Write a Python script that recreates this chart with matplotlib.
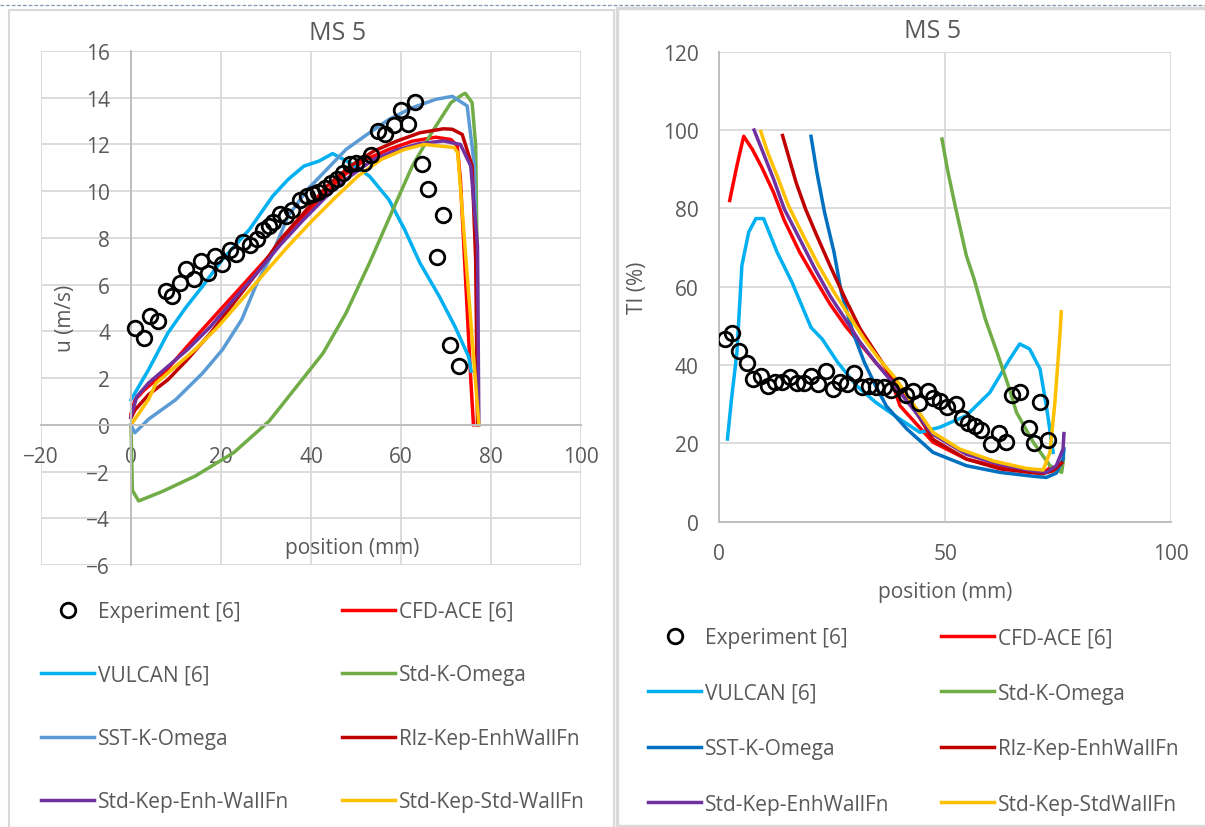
import matplotlib.pyplot as plt
from matplotlib.patches import Rectangle
from matplotlib.lines import Line2D

plt.rcParams['font.family'] = ['Open Sans', 'DejaVu Sans']

W, H = 1205, 828
TXT = '#595959'
GRID = '#D9D9D9'
AXIS = '#BFBFBF'

# ---------------- left chart: velocity u (m/s) ----------------
u_exp_x = [0.9, 2.8, 4.3, 6.0, 7.8, 9.1, 10.8, 12.3, 14.0, 15.5, 17.1, 18.7, 20.3, 22.0,
           23.4, 24.9, 26.5, 28.0, 29.3, 30.6, 31.5, 33.0, 34.5, 35.8, 37.5, 39.2, 40.5,
           41.6, 43.1, 44.4, 45.7, 47.0, 48.7, 50.0, 51.7, 53.4, 54.9, 56.5, 58.4, 59.9,
           61.5, 63.2, 64.7, 66.1, 67.9, 69.4, 70.9, 72.8]
u_exp_y = [4.14, 3.7, 4.67, 4.43, 5.74, 5.5, 6.07, 6.67, 6.24, 7.0, 6.5, 7.21, 6.89, 7.47,
           7.33, 7.81, 7.71, 7.96, 8.33, 8.5, 8.7, 9.04, 8.93, 9.21, 9.64, 9.79, 9.86,
           9.96, 10.14, 10.36, 10.53, 10.79, 11.17, 11.21, 11.21, 11.57, 12.57, 12.43, 12.83,
           13.46, 12.86, 13.81, 11.17, 10.1, 7.19, 8.96, 3.43, 2.53]

u_cfd_x = [0, 0.9, 3.0, 7.3, 12.5, 18.5, 24.6, 30.6, 36.6, 41.8, 47.0, 52.2, 57.3, 62.5,
           67.7, 71.1, 72.5, 73.2, 75.5, 76.1]
u_cfd_y = [0.45, 1.07, 1.5, 2.21, 3.36, 4.64, 5.93, 7.21, 8.5, 9.64, 10.64, 11.36, 11.79,
           12.14, 12.31, 12.21, 11.94, 10.5, 1.95, 0.0]

u_vul_x = [0, 3.9, 8.2, 12.1, 15.9, 20.3, 26.3, 31.5, 34.9, 38.4, 41.8, 44.8, 48.7, 53.0,
           57.3, 60.8, 64.2, 68.5, 72.0, 75.0, 75.6]
u_vul_y = [1.07, 2.36, 3.93, 5.0, 5.93, 7.07, 8.36, 9.79, 10.5, 11.07, 11.29, 11.61, 11.21,
           10.64, 9.64, 8.36, 6.93, 5.5, 4.2, 2.93, 2.3]

u_skw_x = [0, 0.3, 1.7, 7.0, 14.3, 22.9, 30.7, 35.0, 42.7, 47.8, 53.0, 58.2, 62.5, 66.8,
           71.1, 73.7, 74.3, 75.8, 76.6, 77.0, 77.2]
u_skw_y = [0, -2.8, -3.26, -2.85, -2.19, -1.18, 0.16, 1.2, 3.07, 4.79, 6.93, 9.21, 11.07,
           12.5, 13.79, 14.14, 14.19, 13.79, 11.94, 6.0, 0.0]

u_sst_x = [0, 0.85, 3.9, 9.9, 15.9, 20.3, 24.6, 28.0, 31.5, 34.9, 39.2, 43.5, 47.8, 53.0,
           57.3, 62.5, 67.7, 71.4, 74.7, 76.3, 76.8, 77.1]
u_sst_y = [0, -0.34, 0.24, 1.07, 2.21, 3.21, 4.5, 6.07, 7.36, 8.93, 10.07, 10.93, 11.79,
           12.5, 13.07, 13.57, 13.93, 14.06, 13.65, 11.1, 6.0, 0.0]

u_rlz_x = [0, 0.9, 3.9, 8.2, 12.5, 17.7, 22.8, 28.0, 33.2, 38.4, 43.5, 48.7, 53.9, 59.0,
           64.2, 69.4, 71.4, 73.6, 75.8, 76.6, 77.0]
u_rlz_y = [0.3, 0.64, 1.29, 1.93, 2.79, 3.93, 5.21, 6.5, 7.93, 9.07, 10.21, 11.07, 11.71,
           12.14, 12.5, 12.67, 12.65, 12.43, 11.08, 7.0, 0.0]

u_ske_x = [0, 1.3, 3.9, 8.2, 12.5, 17.7, 22.8, 28.0, 33.2, 38.4, 43.5, 48.7, 53.9, 59.0,
           64.2, 69.5, 73.2, 75.5, 77.0, 77.3]
u_ske_y = [0.36, 1.21, 1.79, 2.5, 3.21, 4.21, 5.36, 6.5, 7.71, 8.79, 9.79, 10.64, 11.36,
           11.76, 12.04, 12.15, 12.0, 11.08, 7.65, 0.0]

u_sks_x = [0, 3.9, 5.6, 9.9, 14.2, 19.4, 24.6, 29.7, 34.9, 40.1, 45.3, 50.4, 55.6, 60.8,
           65.1, 71.8, 72.6, 77.3]
u_sks_y = [0, 1.09, 1.79, 2.5, 3.21, 4.21, 5.36, 6.5, 7.64, 8.71, 9.71, 10.64, 11.36, 11.79,
           12.0, 11.87, 11.65, 0.0]

# ---------------- right chart: turbulence intensity TI (%) ----------------
ti_exp_x = [1.26, 2.9, 4.4, 6.1, 7.4, 9.2, 10.7, 12.3, 13.9, 15.6, 17.3, 18.7, 20.4, 21.9,
            23.6, 25.2, 26.7, 28.3, 29.9, 31.6, 33.2, 34.8, 36.4, 38.0, 39.8, 41.3, 42.9,
            44.2, 46.1, 47.3, 48.8, 50.4, 52.4, 53.8, 55.1, 56.6, 57.9, 60.1, 61.9, 63.4,
            64.9, 66.5, 68.6, 69.7, 71.1, 72.8]
ti_exp_y = [46.6, 48.3, 43.7, 40.4, 36.4, 37.3, 34.7, 35.7, 35.7, 36.9, 35.4, 35.3, 37.1, 35.2,
            38.4, 33.9, 35.7, 35.2, 38.0, 34.5, 34.7, 34.3, 34.3, 33.7, 35.0, 32.3, 33.4,
            30.3, 33.3, 31.5, 30.9, 29.2, 30.0, 26.6, 25.2, 24.4, 23.4, 19.8, 22.6, 20.4,
            32.4, 33.2, 23.8, 20.0, 30.5, 20.9]

ti_cfd_x = [2.3, 3.9, 5.4, 7.3, 9.4, 12.0, 14.4, 17.8, 21.2, 24.5, 27.9, 31.2, 34.6, 38.0,
            40.0, 47.3, 54.7, 62.1, 69.5, 72.4, 73.0]
ti_cfd_y = [82.0, 90.9, 98.4, 95.1, 90.5, 84.1, 76.9, 68.8, 62.0, 55.6, 50.0, 45.4, 40.7,
            36.4, 29.6, 20.3, 16.0, 13.9, 12.6, 13.0, 13.6]

ti_vul_x = [1.8, 2.7, 3.9, 5.0, 6.5, 8.1, 9.8, 12.8, 16.1, 20.3, 22.8, 26.2, 30.4, 34.6,
            38.8, 44.4, 48.8, 54.7, 59.9, 64.3, 66.5, 68.7, 71.0, 72.4, 73.9]
ti_vul_y = [21.1, 31.3, 43.2, 65.4, 73.9, 77.4, 77.4, 68.8, 61.1, 49.6, 46.6, 40.7, 34.7,
            30.5, 27.1, 22.8, 24.1, 27.1, 33.0, 41.5, 45.4, 44.1, 39.0, 29.6, 17.7]

ti_skw_x = [49.3, 50.5, 52.2, 54.7, 56.4, 58.9, 61.5, 64.0, 65.8, 69.5, 73.2, 75.8, 76.2]
ti_skw_y = [97.7, 90.0, 80.7, 67.9, 62.0, 51.7, 43.2, 34.7, 27.9, 20.3, 14.3, 12.6, 16.0]

ti_sst_x = [20.3, 21.6, 23.3, 25.4, 27.0, 29.6, 32.1, 34.6, 37.0, 41.5, 47.3, 54.7, 62.1,
            69.5, 72.4, 74.6, 76.1, 76.3]
ti_sst_y = [98.4, 89.2, 79.0, 68.8, 58.6, 48.3, 40.7, 34.7, 29.5, 23.7, 17.7, 14.3, 12.6,
            11.6, 11.3, 12.4, 16.0, 18.6]

ti_rlz_x = [14.0, 15.3, 17.0, 19.1, 21.6, 24.5, 27.9, 31.2, 34.6, 38.0, 41.3, 47.3, 54.7,
            62.1, 69.5, 71.7, 73.9, 75.8]
ti_rlz_y = [98.6, 93.4, 86.6, 79.8, 73.0, 65.4, 56.9, 49.2, 43.2, 37.3, 32.2, 21.0, 16.0,
            13.5, 12.5, 12.3, 13.0, 15.0]

ti_ske_x = [7.7, 9.4, 12.0, 14.4, 17.8, 21.2, 24.5, 27.9, 31.2, 34.6, 38.0, 47.3, 54.7,
            62.1, 69.5, 72.4, 74.6, 76.1, 76.3]
ti_ske_y = [100.0, 95.1, 87.5, 79.8, 72.2, 64.5, 57.7, 51.7, 45.8, 40.7, 36.0, 22.3, 17.2,
            14.6, 13.0, 12.6, 14.3, 18.6, 22.5]

ti_sks_x = [9.2, 10.7, 12.8, 15.3, 18.6, 22.0, 25.4, 28.7, 32.1, 35.4, 38.8, 47.3, 53.3,
            60.7, 68.0, 71.7, 73.2, 74.3, 75.4, 75.7]
ti_sks_y = [99.6, 94.3, 88.3, 80.7, 73.0, 65.4, 58.6, 52.6, 46.6, 41.5, 36.9, 22.8, 18.5,
            15.5, 13.6, 13.2, 17.7, 30.5, 47.5, 53.6]

colors = {
    'cfd': '#FF0000', 'vul': '#00B0F0', 'skw': '#70AD47', 'rlz': '#C00000',
    'ske': '#7030A0', 'sks': '#FFC000',
}
left_sst = '#5B9BD5'
right_sst = '#0070C0'

FS_TICK = 15
FS_LAB = 15
FS_TITLE = 18


def px_axes(fig, x0, y0, x1, y1):
    # pixel box (top-left origin) -> figure axes
    return fig.add_axes([x0 / W, 1 - y1 / H, (x1 - x0) / W, (y1 - y0) / H])


def style_axes(ax):
    ax.grid(True, color=GRID, lw=1.3)
    ax.set_axisbelow(True)
    for s in ['top', 'right']:
        ax.spines[s].set_visible(False)
    for s in ['left', 'bottom']:
        ax.spines[s].set_color(AXIS)
        ax.spines[s].set_linewidth(1.4)
    ax.tick_params(length=0, labelsize=FS_TICK, labelcolor=TXT, pad=15)


def add_legend(fig, handles, x, y, spacing):
    return fig.legend(handles=handles, loc='upper left', bbox_to_anchor=(x / W, 1 - y / H),
                      frameon=False, fontsize=FS_LAB, labelcolor=TXT, handlelength=2.55,
                      handletextpad=0.2, borderpad=0, borderaxespad=0,
                      labelspacing=spacing)


fig = plt.figure(figsize=(W / 100, H / 100), dpi=100)

# panel frames
fig.add_artist(Line2D([0, 1], [1 - 6 / H, 1 - 6 / H], color='#8496B0', lw=0.9, ls=(0, (3, 1.5))))
fig.add_artist(Rectangle((9 / W, -0.01), (614 - 9) / W, 1 - 11 / H + 0.01, fill=False,
                         ec='#D9D9D9', lw=1.5))
fig.add_artist(Rectangle((617 / W, 1 - 827 / H), (1210 - 617) / W, (827 - 9) / H, fill=False,
                         ec='#D9D9D9', lw=2.5))

lw = 2.5

# ---- left
ax1 = px_axes(fig, 41, 52, 581, 566)
exp1, = ax1.plot(u_exp_x, u_exp_y, 'o', mfc='none', mec='black', mew=2.0, ms=10.5, zorder=5,
                 label='Experiment [6]')
l_cfd, = ax1.plot(u_cfd_x, u_cfd_y, color=colors['cfd'], lw=lw, label='CFD-ACE [6]')
l_vul, = ax1.plot(u_vul_x, u_vul_y, color=colors['vul'], lw=lw, label='VULCAN [6]')
l_skw, = ax1.plot(u_skw_x, u_skw_y, color=colors['skw'], lw=lw, label='Std-K-Omega')
l_sst, = ax1.plot(u_sst_x, u_sst_y, color=left_sst, lw=lw, label='SST-K-Omega')
l_rlz, = ax1.plot(u_rlz_x, u_rlz_y, color=colors['rlz'], lw=lw, label='Rlz-Kep-EnhWallFn')
l_ske, = ax1.plot(u_ske_x, u_ske_y, color=colors['ske'], lw=lw, label='Std-Kep-Enh-WallFn')
l_sks, = ax1.plot(u_sks_x, u_sks_y, color=colors['sks'], lw=lw, label='Std-Kep-Std-WallFn')
ax1.set_xlim(-20, 100)
ax1.set_ylim(-6, 16)
ax1.set_xticks(range(-20, 101, 20))
ax1.set_yticks(range(-6, 17, 2))
style_axes(ax1)
ax1.spines['left'].set_position(('data', 0))
ax1.spines['bottom'].set_position(('data', 0))

fig.text(338 / W, 1 - 34 / H, 'MS 5', ha='center', va='center', fontsize=FS_TITLE, color=TXT)
fig.text(352 / W, 1 - 549 / H, 'position (mm)', ha='center', va='center', fontsize=FS_LAB,
         color=TXT)
fig.text(66 / W, 1 - 318 / H, 'u (m/s)', ha='center', va='center', rotation=90,
         fontsize=FS_LAB, color=TXT)

add_legend(fig, [exp1, l_vul, l_sst, l_ske], 41, 602, 2.04)
add_legend(fig, [l_cfd, l_skw, l_rlz, l_sks], 342, 602, 2.04)

# ---- right
ax2 = px_axes(fig, 719.3, 52.7, 1171, 522.7)
exp2, = ax2.plot(ti_exp_x, ti_exp_y, 'o', mfc='none', mec='black', mew=2.0, ms=10.5, zorder=5,
                 label='Experiment [6]')
r_cfd, = ax2.plot(ti_cfd_x, ti_cfd_y, color=colors['cfd'], lw=lw, label='CFD-ACE [6]')
r_vul, = ax2.plot(ti_vul_x, ti_vul_y, color=colors['vul'], lw=lw, label='VULCAN [6]')
r_skw, = ax2.plot(ti_skw_x, ti_skw_y, color=colors['skw'], lw=lw, label='Std-K-Omega')
r_sst, = ax2.plot(ti_sst_x, ti_sst_y, color=right_sst, lw=lw, label='SST-K-Omega')
r_rlz, = ax2.plot(ti_rlz_x, ti_rlz_y, color=colors['rlz'], lw=lw, label='Rlz-Kep-EnhWallFn')
r_ske, = ax2.plot(ti_ske_x, ti_ske_y, color=colors['ske'], lw=lw, label='Std-Kep-EnhWallFn')
r_sks, = ax2.plot(ti_sks_x, ti_sks_y, color=colors['sks'], lw=lw, label='Std-Kep-StdWallFn')
ax2.set_xlim(0, 100)
ax2.set_ylim(0, 120)
ax2.set_xticks([0, 50, 100])
ax2.set_yticks(range(0, 121, 20))
style_axes(ax2)

fig.text(933 / W, 1 - 31 / H, 'MS 5', ha='center', va='center', fontsize=FS_TITLE, color=TXT)
fig.text(945 / W, 1 - 593 / H, 'position (mm)', ha='center', va='center', fontsize=FS_LAB,
         color=TXT)
fig.text(638 / W, 1 - 288 / H, 'TI (%)', ha='center', va='center', rotation=90,
         fontsize=FS_LAB, color=TXT)

add_legend(fig, [exp2, r_vul, r_sst, r_ske], 648, 628, 1.66)
add_legend(fig, [r_cfd, r_skw, r_rlz, r_sks], 941, 628, 1.66)

fig.savefig('out.png', dpi=100)
